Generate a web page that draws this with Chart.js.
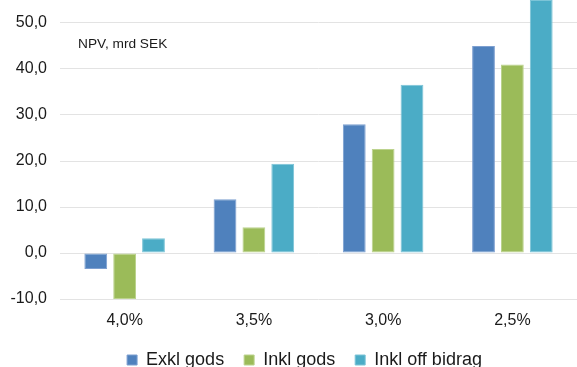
<!DOCTYPE html>
<html>
<head>
<meta charset="utf-8">
<style>
  html, body { margin: 0; padding: 0; background: #fff; }
  #wrap { width: 577px; height: 367px; position: relative; }
</style>
<script src="https://cdn.jsdelivr.net/npm/chart.js@4/dist/chart.umd.min.js"></script>
</head>
<body>
<div id="wrap"><canvas id="npvChart"></canvas></div>
<script>
/* data */
const rates = ['4,0%', '3,5%', '3,0%', '2,5%'];
const exklGods = [-3.5, 11.7, 28.0, 45.0];
const inklGods = [-10.0, 5.6, 22.6, 41.0];
const inklOffBidrag = [3.2, 19.4, 36.6, 55.0];
const yTicks = [-10, 0, 10, 20, 30, 40, 50];
const unitNote = 'NPV, mrd SEK';

const FONT = '"Liberation Sans", Arial, sans-serif';
const TEXT = '#1a1a1a';

/* small text note inside the plot + legend placement */
const notePlugin = {
  id: 'note',
  afterLayout(chart) {
    const lg = chart.legend;
    lg.left += 16; lg.right += 16;
    lg.top += 2; lg.bottom += 2;
  },
  afterDraw(chart) {
    const { ctx, chartArea, scales } = chart;
    ctx.save();
    ctx.font = '13.7px ' + FONT;
    ctx.fillStyle = TEXT;
    ctx.textBaseline = 'middle';
    ctx.fillText(unitNote, chartArea.left + 18, scales.y.getPixelForValue(45.3));
    ctx.restore();
  }
};

const ds = (label, data, color, edge) => ({
  label, data,
  backgroundColor: color,
  borderColor: edge,
  borderWidth: 1,
  borderSkipped: false,
  categoryPercentage: 0.67,
  barPercentage: 0.79,
});

new Chart(document.getElementById('npvChart'), {
  type: 'bar',
  data: {
    labels: rates,
    datasets: [
      ds('Exkl gods', exklGods, '#4f81bd', '#7d9fd0'),
      ds('Inkl gods', inklGods, '#9bbb59', '#bcd38e'),
      ds('Inkl off bidrag', inklOffBidrag, '#4bacc6', '#7cc4d7'),
    ],
  },
  plugins: [notePlugin],
  options: {
    responsive: true,
    maintainAspectRatio: false,
    animation: false,
    layout: { padding: { top: 0, left: 0, right: 0, bottom: -10 } },
    plugins: {
      legend: {
        position: 'bottom',
        labels: {
          boxWidth: 10, boxHeight: 10, padding: 20,
          color: TEXT, font: { family: FONT, size: 18 },
        },
      },
      tooltip: { enabled: false },
    },
    scales: {
      x: {
        grid: { display: false, drawTicks: false },
        border: { display: false },
        ticks: { color: TEXT, padding: 12, font: { family: FONT, size: 16 } },
        afterFit: s => { s.height = 30; s.paddingLeft = 0; s.paddingRight = 0; },
      },
      y: {
        min: -10, max: 55,
        afterBuildTicks: s => { s.ticks = yTicks.map(v => ({ value: v })); },
        grid: { color: '#e3e3e3', drawTicks: false, lineWidth: 1 },
        border: { display: false },
        ticks: {
          color: TEXT, padding: 13,
          font: { family: FONT, size: 16 },
          callback: v => v.toFixed(1).replace('.', ','),
        },
        afterFit: s => { s.width = 60; s.paddingTop = 0; s.paddingBottom = 0; },
      },
    },
  },
});
</script>
</body>
</html>
